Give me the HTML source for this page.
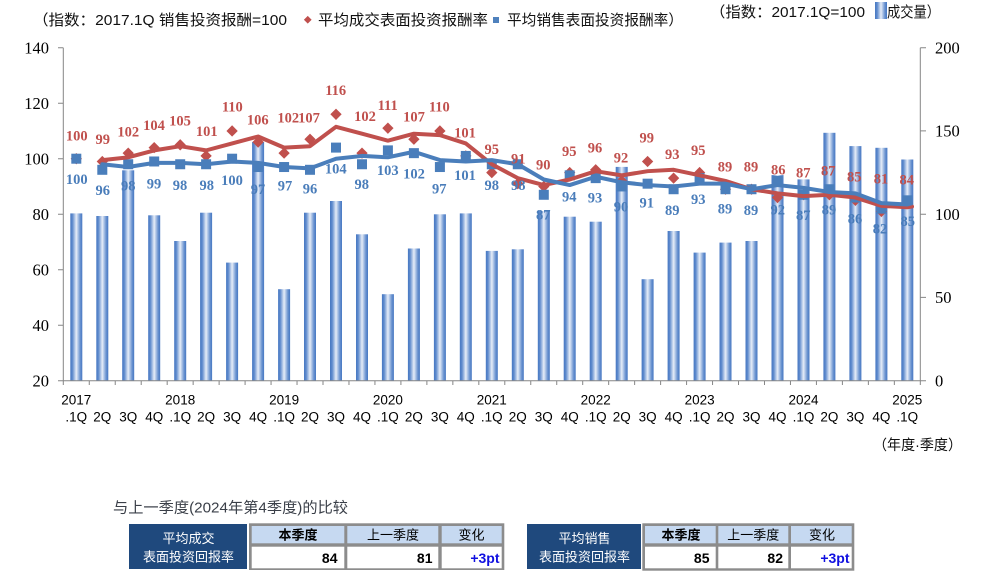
<!DOCTYPE html>
<html><head><meta charset="utf-8"><style>
html,body{margin:0;padding:0;background:#fff;}
svg{display:block;}
.cj{font-family:"Liberation Sans","Noto Sans CJK SC",sans-serif;}
.ax{font-family:"Liberation Serif",serif;font-size:16.5px;fill:#000;}
.xl{font-family:"Liberation Sans",sans-serif;font-size:13.5px;fill:#000;text-anchor:middle;}
.rl{font-family:"Liberation Serif",serif;font-size:14.5px;font-weight:bold;fill:#c0504d;text-anchor:middle;}
.bl{font-family:"Liberation Serif",serif;font-size:14.5px;font-weight:bold;fill:#4a7dba;text-anchor:middle;}
</style></head><body>
<svg width="997" height="585" viewBox="0 0 997 585" xmlns="http://www.w3.org/2000/svg">
<defs>
<linearGradient id="bg" x1="0" y1="0" x2="1" y2="0">
<stop offset="0" stop-color="#4677c2"/>
<stop offset="0.18" stop-color="#5f8bcd"/>
<stop offset="0.5" stop-color="#e6edf8"/>
<stop offset="0.82" stop-color="#6a93d0"/>
<stop offset="1" stop-color="#4677c2"/>
</linearGradient>
</defs>
<rect width="997" height="585" fill="#fff"/>

<!-- legends -->
<text class="cj" x="33" y="25" font-size="15" fill="#111" textLength="254" lengthAdjust="spacingAndGlyphs">（指数：2017.1Q 销售投资报酬=100</text>
<rect x="305" y="17" width="5.5" height="5.5" fill="#c0504d" transform="rotate(45 307.75 19.75)"/>
<text class="cj" x="318" y="25" font-size="15" fill="#111" textLength="170" lengthAdjust="spacingAndGlyphs">平均成交表面投资报酬率</text>
<rect x="493" y="17" width="6" height="6" fill="#4f81bd"/>
<text class="cj" x="507" y="25" font-size="15" fill="#111" textLength="176" lengthAdjust="spacingAndGlyphs">平均销售表面投资报酬率）</text>
<text class="cj" x="710" y="17" font-size="15" fill="#111" textLength="155" lengthAdjust="spacingAndGlyphs">（指数：2017.1Q=100</text>
<rect x="875" y="2" width="12" height="17" fill="url(#bg)"/>
<text class="cj" x="887" y="17" font-size="15" fill="#111" textLength="53" lengthAdjust="spacingAndGlyphs">成交量）</text>

<!-- bars -->
<g fill="url(#bg)">
<rect x="70.3" y="213.4" width="12" height="167.3"/>
<rect x="96.3" y="216.0" width="12" height="164.7"/>
<rect x="122.2" y="170.3" width="12" height="210.4"/>
<rect x="148.2" y="215.3" width="12" height="165.4"/>
<rect x="174.2" y="241.0" width="12" height="139.7"/>
<rect x="200.1" y="212.7" width="12" height="168.0"/>
<rect x="226.1" y="262.6" width="12" height="118.1"/>
<rect x="252.1" y="142.0" width="12" height="238.7"/>
<rect x="278.1" y="289.2" width="12" height="91.5"/>
<rect x="304.0" y="212.7" width="12" height="168.0"/>
<rect x="330.0" y="201.0" width="12" height="179.7"/>
<rect x="356.0" y="234.3" width="12" height="146.4"/>
<rect x="381.9" y="294.2" width="12" height="86.5"/>
<rect x="407.9" y="248.5" width="12" height="132.2"/>
<rect x="433.9" y="214.3" width="12" height="166.4"/>
<rect x="459.8" y="213.4" width="12" height="167.3"/>
<rect x="485.8" y="250.9" width="12" height="129.8"/>
<rect x="511.8" y="249.3" width="12" height="131.4"/>
<rect x="537.8" y="211.0" width="12" height="169.7"/>
<rect x="563.7" y="216.7" width="12" height="164.0"/>
<rect x="589.7" y="221.7" width="12" height="159.0"/>
<rect x="615.7" y="166.9" width="12" height="213.8"/>
<rect x="641.6" y="279.2" width="12" height="101.5"/>
<rect x="667.6" y="231.0" width="12" height="149.7"/>
<rect x="693.6" y="252.6" width="12" height="128.1"/>
<rect x="719.5" y="242.6" width="12" height="138.1"/>
<rect x="745.5" y="241.0" width="12" height="139.7"/>
<rect x="771.5" y="175.1" width="12" height="205.6"/>
<rect x="797.5" y="179.4" width="12" height="201.3"/>
<rect x="823.4" y="132.8" width="12" height="247.9"/>
<rect x="849.4" y="146.1" width="12" height="234.6"/>
<rect x="875.4" y="147.8" width="12" height="232.9"/>
<rect x="901.3" y="159.5" width="12" height="221.2"/>
</g>

<!-- axes -->
<g stroke="#868686" stroke-width="1" fill="none">
<path d="M63.3 47.7V380.7H920.3V47.7"/>
<path d="M58 47.7H63.3M58 103.2H63.3M58 158.7H63.3M58 214.2H63.3M58 269.7H63.3M58 325.2H63.3M58 380.7H63.3"/>
<path d="M920.3 47.7H926M920.3 130.9H926M920.3 214.2H926M920.3 297.4H926M920.3 380.7H926"/>
<path d="M63.3 380.7V385M89.27 380.7V385M115.24 380.7V385M141.21 380.7V385M167.18 380.7V385M193.15 380.7V385M219.12 380.7V385M245.09 380.7V385M271.06 380.7V385M297.03 380.7V385M323 380.7V385M348.97 380.7V385M374.94 380.7V385M400.91 380.7V385M426.88 380.7V385M452.85 380.7V385M478.82 380.7V385M504.79 380.7V385M530.76 380.7V385M556.73 380.7V385M582.7 380.7V385M608.67 380.7V385M634.64 380.7V385M660.61 380.7V385M686.58 380.7V385M712.55 380.7V385M738.52 380.7V385M764.49 380.7V385M790.46 380.7V385M816.43 380.7V385M842.4 380.7V385M868.37 380.7V385M894.34 380.7V385M920.31 380.7V385"/>
</g>

<!-- axis labels -->
<g class="ax" text-anchor="end">
<text x="49" y="53.4">140</text>
<text x="49" y="108.9">120</text>
<text x="49" y="164.4">100</text>
<text x="49" y="219.9">80</text>
<text x="49" y="275.4">60</text>
<text x="49" y="330.9">40</text>
<text x="49" y="386.4">20</text>
</g>
<g class="ax" text-anchor="start">
<text x="935" y="53.4">200</text>
<text x="935" y="136.6">150</text>
<text x="935" y="219.9">100</text>
<text x="935" y="303.1">50</text>
<text x="935" y="386.4">0</text>
</g>

<g class="xl">
<text x="76.3" y="404.3">2017</text>
<text x="180.2" y="404.3">2018</text>
<text x="284.1" y="404.3">2019</text>
<text x="387.9" y="404.3">2020</text>
<text x="491.8" y="404.3">2021</text>
<text x="595.7" y="404.3">2022</text>
<text x="699.6" y="404.3">2023</text>
<text x="803.5" y="404.3">2024</text>
<text x="907.3" y="404.3">2025</text>
<text x="76.3" y="421.5">.1Q</text><text x="102.3" y="421.5">2Q</text><text x="128.2" y="421.5">3Q</text><text x="154.2" y="421.5">4Q</text>
<text x="180.2" y="421.5">.1Q</text><text x="206.1" y="421.5">2Q</text><text x="232.1" y="421.5">3Q</text><text x="258.1" y="421.5">4Q</text>
<text x="284.1" y="421.5">.1Q</text><text x="310.0" y="421.5">2Q</text><text x="336.0" y="421.5">3Q</text><text x="362.0" y="421.5">4Q</text>
<text x="387.9" y="421.5">.1Q</text><text x="413.9" y="421.5">2Q</text><text x="439.9" y="421.5">3Q</text><text x="465.8" y="421.5">4Q</text>
<text x="491.8" y="421.5">.1Q</text><text x="517.8" y="421.5">2Q</text><text x="543.8" y="421.5">3Q</text><text x="569.7" y="421.5">4Q</text>
<text x="595.7" y="421.5">.1Q</text><text x="621.7" y="421.5">2Q</text><text x="647.6" y="421.5">3Q</text><text x="673.6" y="421.5">4Q</text>
<text x="699.6" y="421.5">.1Q</text><text x="725.5" y="421.5">2Q</text><text x="751.5" y="421.5">3Q</text><text x="777.5" y="421.5">4Q</text>
<text x="803.5" y="421.5">.1Q</text><text x="829.4" y="421.5">2Q</text><text x="855.4" y="421.5">3Q</text><text x="881.4" y="421.5">4Q</text>
<text x="907.3" y="421.5">.1Q</text>
</g>
<text class="cj" x="873" y="450" font-size="14.5" fill="#111" textLength="89" lengthAdjust="spacingAndGlyphs">（年度·季度）</text>

<!-- red diamonds -->
<g fill="#c0504d">
<rect x="-4" y="-4" width="8" height="8" transform="translate(76.3 158.7) rotate(45)"/>
<rect x="-4" y="-4" width="8" height="8" transform="translate(102.3 161.48) rotate(45)"/>
<rect x="-4" y="-4" width="8" height="8" transform="translate(128.2 153.15) rotate(45)"/>
<rect x="-4" y="-4" width="8" height="8" transform="translate(154.2 147.6) rotate(45)"/>
<rect x="-4" y="-4" width="8" height="8" transform="translate(180.2 144.83) rotate(45)"/>
<rect x="-4" y="-4" width="8" height="8" transform="translate(206.1 155.93) rotate(45)"/>
<rect x="-4" y="-4" width="8" height="8" transform="translate(232.1 130.95) rotate(45)"/>
<rect x="-4" y="-4" width="8" height="8" transform="translate(258.1 142.05) rotate(45)"/>
<rect x="-4" y="-4" width="8" height="8" transform="translate(284.1 153.15) rotate(45)"/>
<rect x="-4" y="-4" width="8" height="8" transform="translate(310.0 139.28) rotate(45)"/>
<rect x="-4" y="-4" width="8" height="8" transform="translate(336.0 114.3) rotate(45)"/>
<rect x="-4" y="-4" width="8" height="8" transform="translate(362.0 153.15) rotate(45)"/>
<rect x="-4" y="-4" width="8" height="8" transform="translate(387.9 128.18) rotate(45)"/>
<rect x="-4" y="-4" width="8" height="8" transform="translate(413.9 139.28) rotate(45)"/>
<rect x="-4" y="-4" width="8" height="8" transform="translate(439.9 130.95) rotate(45)"/>
<rect x="-4" y="-4" width="8" height="8" transform="translate(465.8 155.93) rotate(45)"/>
<rect x="-4" y="-4" width="8" height="8" transform="translate(491.8 172.58) rotate(45)"/>
<rect x="-4" y="-4" width="8" height="8" transform="translate(517.8 183.68) rotate(45)"/>
<rect x="-4" y="-4" width="8" height="8" transform="translate(543.8 186.45) rotate(45)"/>
<rect x="-4" y="-4" width="8" height="8" transform="translate(569.7 172.58) rotate(45)"/>
<rect x="-4" y="-4" width="8" height="8" transform="translate(595.7 169.8) rotate(45)"/>
<rect x="-4" y="-4" width="8" height="8" transform="translate(621.7 180.9) rotate(45)"/>
<rect x="-4" y="-4" width="8" height="8" transform="translate(647.6 161.48) rotate(45)"/>
<rect x="-4" y="-4" width="8" height="8" transform="translate(673.6 178.13) rotate(45)"/>
<rect x="-4" y="-4" width="8" height="8" transform="translate(699.6 172.58) rotate(45)"/>
<rect x="-4" y="-4" width="8" height="8" transform="translate(725.5 189.23) rotate(45)"/>
<rect x="-4" y="-4" width="8" height="8" transform="translate(751.5 189.23) rotate(45)"/>
<rect x="-4" y="-4" width="8" height="8" transform="translate(777.5 197.55) rotate(45)"/>
<rect x="-4" y="-4" width="8" height="8" transform="translate(803.5 194.78) rotate(45)"/>
<rect x="-4" y="-4" width="8" height="8" transform="translate(829.4 194.78) rotate(45)"/>
<rect x="-4" y="-4" width="8" height="8" transform="translate(855.4 200.33) rotate(45)"/>
<rect x="-4" y="-4" width="8" height="8" transform="translate(881.4 211.43) rotate(45)"/>
<rect x="-4" y="-4" width="8" height="8" transform="translate(907.3 203.1) rotate(45)"/>
</g>

<!-- blue squares -->
<g fill="#4a7ebb">
<rect x="71.3" y="153.7" width="10" height="10"/>
<rect x="97.3" y="164.8" width="10" height="10"/>
<rect x="123.2" y="159.25" width="10" height="10"/>
<rect x="149.2" y="156.48" width="10" height="10"/>
<rect x="175.2" y="159.25" width="10" height="10"/>
<rect x="201.1" y="159.25" width="10" height="10"/>
<rect x="227.1" y="153.7" width="10" height="10"/>
<rect x="253.1" y="162.03" width="10" height="10"/>
<rect x="279.1" y="162.03" width="10" height="10"/>
<rect x="305.0" y="164.8" width="10" height="10"/>
<rect x="331.0" y="142.6" width="10" height="10"/>
<rect x="357.0" y="159.25" width="10" height="10"/>
<rect x="382.9" y="145.38" width="10" height="10"/>
<rect x="408.9" y="148.15" width="10" height="10"/>
<rect x="434.9" y="162.03" width="10" height="10"/>
<rect x="460.8" y="150.93" width="10" height="10"/>
<rect x="486.8" y="159.25" width="10" height="10"/>
<rect x="512.8" y="159.25" width="10" height="10"/>
<rect x="538.8" y="189.78" width="10" height="10"/>
<rect x="564.7" y="170.35" width="10" height="10"/>
<rect x="590.7" y="173.13" width="10" height="10"/>
<rect x="616.7" y="181.45" width="10" height="10"/>
<rect x="642.6" y="178.68" width="10" height="10"/>
<rect x="668.6" y="184.23" width="10" height="10"/>
<rect x="694.6" y="173.13" width="10" height="10"/>
<rect x="720.5" y="184.23" width="10" height="10"/>
<rect x="746.5" y="184.23" width="10" height="10"/>
<rect x="772.5" y="175.9" width="10" height="10"/>
<rect x="798.5" y="189.78" width="10" height="10"/>
<rect x="824.4" y="184.23" width="10" height="10"/>
<rect x="850.4" y="192.55" width="10" height="10"/>
<rect x="876.4" y="203.65" width="10" height="10"/>
<rect x="902.3" y="195.33" width="10" height="10"/>
</g>

<!-- trend lines -->
<polyline fill="none" stroke="#c0504d" stroke-width="4" stroke-linejoin="round" stroke-linecap="round" points="102.3,160.09 128.2,157.31 154.2,150.38 180.2,146.21 206.1,150.38 232.1,143.44 258.1,136.5 284.1,147.6 310.0,146.21 336.0,126.79 362.0,133.73 387.9,140.66 413.9,133.73 439.9,135.11 465.8,143.44 491.8,164.25 517.8,178.13 543.8,185.06 569.7,179.51 595.7,171.19 621.7,175.35 647.6,171.19 673.6,169.8 699.6,175.35 725.5,180.9 751.5,189.23 777.5,193.39 803.5,196.16 829.4,194.78 855.4,197.55 881.4,205.88 907.3,207.26 912,206.5"/>
<polyline fill="none" stroke="#4a7ebb" stroke-width="4" stroke-linejoin="round" stroke-linecap="round" points="102.3,164.25 128.2,167.03 154.2,162.86 180.2,162.86 206.1,164.25 232.1,161.48 258.1,162.86 284.1,167.03 310.0,168.41 336.0,158.7 362.0,155.93 387.9,157.31 413.9,151.76 439.9,160.09 465.8,161.48 491.8,160.09 517.8,164.25 543.8,179.51 569.7,185.06 595.7,176.74 621.7,182.29 647.6,185.06 673.6,186.45 699.6,183.68 725.5,183.68 751.5,189.23 777.5,185.06 803.5,187.84 829.4,192.0 855.4,193.39 881.4,203.1 907.3,204.49 911,203.5"/>

<!-- red labels -->
<g class="rl">
<text x="76.7" y="140.7">100</text>
<text x="102.7" y="144">99</text>
<text x="128.3" y="136.7">102</text>
<text x="154" y="130">104</text>
<text x="180" y="125.7">105</text>
<text x="206.7" y="136">101</text>
<text x="232.3" y="111.7">110</text>
<text x="257.7" y="124.3">106</text>
<text x="288.3" y="122.3">102</text>
<text x="309" y="122.3">107</text>
<text x="335.7" y="95">116</text>
<text x="365" y="121">102</text>
<text x="387.7" y="110">111</text>
<text x="414" y="121.7">107</text>
<text x="439.3" y="111.7">110</text>
<text x="465" y="137.3">101</text>
<text x="491.7" y="154">95</text>
<text x="518.3" y="163.3">91</text>
<text x="543.3" y="169.3">90</text>
<text x="569.3" y="156">95</text>
<text x="595" y="152.3">96</text>
<text x="621" y="162.7">92</text>
<text x="646.7" y="142.7">99</text>
<text x="672.3" y="159">93</text>
<text x="698.3" y="155">95</text>
<text x="725" y="171.7">89</text>
<text x="751" y="171.7">89</text>
<text x="778.3" y="174.3">86</text>
<text x="803.3" y="177.7">87</text>
<text x="828.3" y="175.7">87</text>
<text x="854.3" y="181.7">85</text>
<text x="881" y="183.3">81</text>
<text x="906.7" y="184.3">84</text>
</g>

<!-- blue labels -->
<g class="bl">
<text x="76.7" y="184">100</text>
<text x="102.7" y="195">96</text>
<text x="128.3" y="190.7">98</text>
<text x="154" y="188.3">99</text>
<text x="180" y="190">98</text>
<text x="206.7" y="190">98</text>
<text x="232" y="185">100</text>
<text x="258" y="194">97</text>
<text x="285" y="190.7">97</text>
<text x="310" y="193.3">96</text>
<text x="335.7" y="173.3">104</text>
<text x="361.7" y="189">98</text>
<text x="387.7" y="175">103</text>
<text x="414" y="178.3">102</text>
<text x="439.3" y="193.3">97</text>
<text x="465" y="180">101</text>
<text x="491.7" y="190">98</text>
<text x="518.3" y="190">98</text>
<text x="543.3" y="219.3">87</text>
<text x="569.3" y="201.7">94</text>
<text x="595" y="202.7">93</text>
<text x="621" y="211.7">90</text>
<text x="646.7" y="207.7">91</text>
<text x="672.3" y="215">89</text>
<text x="698.3" y="204">93</text>
<text x="725" y="213.3">89</text>
<text x="751" y="215">89</text>
<text x="777.7" y="214.3">92</text>
<text x="803.3" y="220">87</text>
<text x="829" y="214.3">89</text>
<text x="855" y="223.3">86</text>
<text x="880" y="233.3">82</text>
<text x="907.7" y="226">85</text>
</g>

<!-- comparison title -->
<text class="cj" x="113" y="512.5" font-size="15" fill="#3a3f48" textLength="235" lengthAdjust="spacingAndGlyphs">与上一季度(2024年第4季度)的比较</text>

<!-- table 1 -->
<rect x="129" y="524" width="118" height="45" fill="#1f497d"/>
<text class="cj" x="188.5" y="543" font-size="13" fill="#fff" text-anchor="middle">平均成交</text>
<text class="cj" x="188.5" y="561.5" font-size="13" fill="#fff" text-anchor="middle">表面投资回报率</text>
<rect x="249" y="523.3" width="255.3" height="46.7" fill="#8c8c8c"/>
<rect x="251.7" y="526" width="92.6" height="17.3" fill="#c6d9f1"/>
<rect x="347.3" y="526" width="91" height="17.3" fill="#c6d9f1"/>
<rect x="441.7" y="526" width="60" height="17.3" fill="#c6d9f1"/>
<rect x="251.7" y="546.7" width="92.6" height="21.6" fill="#fff"/>
<rect x="347.3" y="546.7" width="91" height="21.6" fill="#fff"/>
<rect x="441.7" y="546.7" width="60" height="21.6" fill="#fff"/>
<text class="cj" x="298" y="539.5" font-size="13" font-weight="bold" fill="#000" text-anchor="middle">本季度</text>
<text class="cj" x="393" y="539.5" font-size="13" fill="#000" text-anchor="middle">上一季度</text>
<text class="cj" x="471.5" y="539.5" font-size="13" fill="#000" text-anchor="middle">变化</text>
<text class="cj" x="337.5" y="563" font-size="14" font-weight="bold" fill="#000" text-anchor="end">84</text>
<text class="cj" x="432.5" y="563" font-size="14" font-weight="bold" fill="#000" text-anchor="end">81</text>
<text class="cj" x="499.5" y="563" font-size="14" font-weight="bold" fill="#1010e0" text-anchor="end">+3pt</text>

<!-- table 2 -->
<rect x="527" y="524" width="114" height="45" fill="#1f497d"/>
<text class="cj" x="584.5" y="543" font-size="13" fill="#fff" text-anchor="middle">平均销售</text>
<text class="cj" x="584.5" y="561.5" font-size="13" fill="#fff" text-anchor="middle">表面投资回报率</text>
<rect x="642.3" y="523.3" width="212" height="47.4" fill="#8c8c8c"/>
<rect x="645" y="526" width="70.7" height="17.3" fill="#c6d9f1"/>
<rect x="718.3" y="526" width="70" height="17.3" fill="#c6d9f1"/>
<rect x="791" y="526" width="60.7" height="17.3" fill="#c6d9f1"/>
<rect x="645" y="546.7" width="70.7" height="21.6" fill="#fff"/>
<rect x="718.3" y="546.7" width="70" height="21.6" fill="#fff"/>
<rect x="791" y="546.7" width="60.7" height="21.6" fill="#fff"/>
<text class="cj" x="681" y="539.5" font-size="13" font-weight="bold" fill="#000" text-anchor="middle">本季度</text>
<text class="cj" x="753.3" y="539.5" font-size="13" fill="#000" text-anchor="middle">上一季度</text>
<text class="cj" x="822" y="539.5" font-size="13" fill="#000" text-anchor="middle">变化</text>
<text class="cj" x="709.5" y="563" font-size="14" font-weight="bold" fill="#000" text-anchor="end">85</text>
<text class="cj" x="783" y="563" font-size="14" font-weight="bold" fill="#000" text-anchor="end">82</text>
<text class="cj" x="849.5" y="563" font-size="14" font-weight="bold" fill="#1010e0" text-anchor="end">+3pt</text>
</svg>
</body></html>
